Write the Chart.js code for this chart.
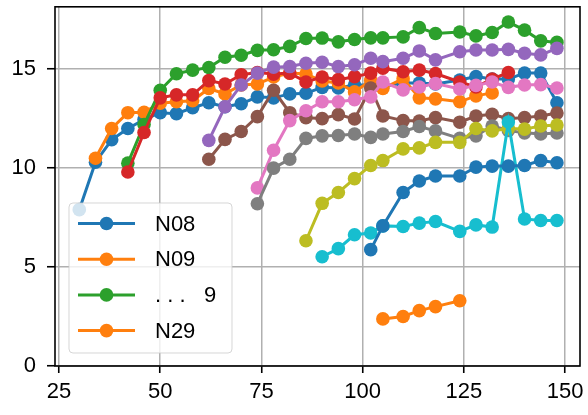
<!DOCTYPE html>
<html>
<head>
<meta charset="utf-8">
<script src="https://cdn.jsdelivr.net/npm/chart.js@4.4.1/dist/chart.umd.min.js"></script>
<style>
  html, body { margin: 0; padding: 0; background: #fff; }
</style>
</head>
<body>
<canvas id="chart" width="588" height="415"></canvas>
<script>
// shared x grid (every series uses a slice of it)
const ages = [30, 34, 38, 42, 46, 50, 54, 58, 62, 66, 70, 74, 78, 82, 86, 90, 94, 98, 102, 105, 110, 114, 118, 124, 128, 132, 136, 140, 144, 148];

const s0 = [7.9, 10.3, 11.43, 12.0, 12.45, 12.8, 12.75, 13.05, 13.3, 13.1, 13.25, 13.6, 13.55, 13.75, 13.78, 14.08, 14.05, 14.2, 14.2, 14.12, 14.3, 14.3, 14.25, 14.45, 14.63, 14.5, 14.5, 14.8, 14.8, 13.3];
const s1 = [null, 10.5, 12.0, 12.8, 12.82, 13.28, 13.35, 13.4, 14.02, 13.75, 14.2, 14.25, 14.6, 14.8, 14.75, 14.4, 14.3, 13.85, 14.43, 14.02, 14.52, 13.55, 13.5, 13.35, 13.65, 13.8, null, null, null, null];
const s2 = [null, null, null, 10.25, 12.2, 13.93, 14.77, 14.95, 15.08, 15.6, 15.7, 15.95, 15.98, 16.15, 16.55, 16.57, 16.38, 16.5, 16.58, 16.58, 16.63, 17.1, 16.8, 16.88, 16.68, 16.85, 17.38, 16.97, 16.43, 16.35];
const s3 = [null, null, null, 9.8, 11.8, 13.55, 13.7, 13.7, 14.42, 14.25, 14.72, 14.83, 14.75, 14.8, 14.35, 14.6, 14.47, 14.62, 14.8, 15.05, 14.87, 14.95, 14.78, 14.35, 14.1, 14.5, 14.83, null, null, null];
const s4 = [null, null, null, null, null, null, null, null, 11.4, 13.1, 14.2, 14.8, 15.1, 15.13, 15.3, 15.35, 15.13, 15.22, 15.55, 15.38, 15.55, 15.92, 15.47, 15.88, 15.97, 15.97, 16.0, 15.8, 15.72, 16.05];
const s5 = [null, null, null, null, null, null, null, null, 10.45, 11.45, 11.85, 12.6, 13.93, 12.8, 12.55, 12.5, 12.7, 12.48, 14.05, 12.63, 12.4, 12.38, 12.55, 12.32, 12.63, 12.72, 12.5, 12.55, 12.63, 12.78];
const s6 = [null, null, null, null, null, null, null, null, null, null, null, 9.0, 10.9, 12.4, 12.9, 13.35, 13.35, 13.45, 13.6, 14.35, 13.95, 14.1, 14.27, 14.0, 14.18, 14.35, 14.08, 14.2, 14.22, 14.05];
const s7 = [null, null, null, null, null, null, null, null, null, null, null, 8.2, 10.0, 10.45, 11.5, 11.63, 11.65, 11.72, 11.55, 11.72, 11.85, 12.1, 11.88, 11.5, 11.63, 12.13, 11.9, 11.78, 11.72, 11.77];
const s8 = [null, null, null, null, null, null, null, null, null, null, null, null, null, null, 6.33, 8.22, 8.77, 9.47, 10.13, 10.38, 10.97, 11.02, 11.3, 11.3, 12.0, 11.88, 12.0, 11.97, 12.13, 12.18];
const s9 = [null, null, null, null, null, null, null, null, null, null, null, null, null, null, null, 5.52, 5.93, 6.63, 6.72, 7.08, 7.05, 7.22, 7.3, 6.8, 7.13, 7.02, 12.33, 7.43, 7.35, 7.35];
const s10 = [null, null, null, null, null, null, null, null, null, null, null, null, null, null, null, null, null, null, 5.88, 7.08, 8.77, 9.35, 9.6, 9.6, 10.05, 10.1, 10.1, 10.13, 10.38, 10.27];
const s11 = [null, null, null, null, null, null, null, null, null, null, null, null, null, null, null, null, null, null, null, 2.38, 2.5, 2.8, 3.0, 3.3, null, null, null, null, null, null];

const seriesLabels = ["N08", "N09", ". . .   9", "N10", "N11", "N12", "N13", "N14", "N15", "N16", "N28", "N29"];
const legendShown = [0, 1, 2, 11];
const xTicks = [25, 50, 75, 100, 125, 150];
const yTicks = [0, 5, 10, 15];

const palette = ["#1f77b4", "#ff7f0e", "#2ca02c", "#d62728", "#9467bd", "#8c564b", "#e377c2", "#7f7f7f", "#bcbd22", "#17becf"];
const allSeries = [s0, s1, s2, s3, s4, s5, s6, s7, s8, s9, s10, s11];
const FONT = "'Liberation Sans', Arial, sans-serif";
const MARK_R = 6.8;
const LINE_W = 3;

const datasets = allSeries.map((vals, i) => {
    const color = palette[i % palette.length];
    const pts = [];
    vals.forEach((v, k) => { if (v !== null) pts.push({ x: ages[k], y: v }); });
    return {
        label: seriesLabels[i],
        data: pts,
        borderColor: color,
        backgroundColor: color,
        borderWidth: LINE_W,
        pointRadius: MARK_R,
        pointHoverRadius: MARK_R,
        pointBorderWidth: 0,
        tension: 0,
        order: -i,   // later series drawn on top, like matplotlib
    };
});

// black frame around the plot area
const framePlugin = {
    id: "frame",
    afterDatasetsDraw(chart) {
        const { ctx, chartArea: a } = chart;
        ctx.save();
        ctx.strokeStyle = "#000";
        ctx.lineWidth = 1.6;
        ctx.strokeRect(a.left, a.top, a.right - a.left, a.bottom - a.top);
        ctx.restore();
    }
};

// matplotlib-like legend box in the lower left
const legendBox = {
    id: "legendBox",
    afterDraw(chart) {
        const ctx = chart.ctx;
        const x0 = 69, y0 = 203, w = 163, h = 150, r = 4;
        ctx.save();
        ctx.beginPath();
        ctx.roundRect(x0, y0, w, h, r);
        ctx.fillStyle = "rgba(255,255,255,0.8)";
        ctx.fill();
        ctx.strokeStyle = "rgba(204,204,204,0.8)";
        ctx.lineWidth = 1;
        ctx.stroke();
        ctx.font = "22px " + FONT;
        ctx.textBaseline = "middle";
        legendShown.forEach((idx, row) => {
            const ds = chart.data.datasets[idx];
            const cy = 223.5 + row * 35.7;
            ctx.strokeStyle = ds.borderColor;
            ctx.lineWidth = LINE_W;
            ctx.beginPath();
            ctx.moveTo(78, cy);
            ctx.lineTo(135, cy);
            ctx.stroke();
            ctx.fillStyle = ds.backgroundColor;
            ctx.beginPath();
            ctx.arc(106.5, cy, MARK_R, 0, Math.PI * 2);
            ctx.fill();
            ctx.fillStyle = "#000";
            ctx.fillText(ds.label, 155, cy + 1);
        });
        ctx.restore();
    }
};

new Chart(document.getElementById("chart"), {
    type: "line",
    data: { datasets },
    options: {
        responsive: false,
        animation: false,
        devicePixelRatio: 1,
        layout: { padding: { top: 3, right: 8, left: 0, bottom: 0 } },
        plugins: { legend: { display: false }, tooltip: { enabled: false } },
        scales: {
            x: {
                type: "linear",
                min: 24,
                max: 153.7,
                afterBuildTicks: (s) => { s.ticks = xTicks.map(v => ({ value: v })); },
                afterFit: (s) => { s.height = 49; s.paddingLeft = 0; s.paddingRight = 0; },
                grid: { color: "#b0b0b0", lineWidth: 1.5, tickColor: "#000", tickWidth: 1.6, tickLength: 7 },
                border: { display: false },
                ticks: { color: "#000", font: { size: 22, family: FONT }, padding: 6, maxRotation: 0 }
            },
            y: {
                type: "linear",
                min: 0,
                max: 18.15,
                afterBuildTicks: (s) => { s.ticks = yTicks.map(v => ({ value: v })); },
                afterFit: (s) => { s.width = 55; s.paddingTop = 0; s.paddingBottom = 0; },
                grid: { color: "#b0b0b0", lineWidth: 1.5, tickColor: "#000", tickWidth: 1.6, tickLength: 8 },
                border: { display: false },
                ticks: { color: "#000", font: { size: 22, family: FONT }, padding: 11 }
            }
        }
    },
    plugins: [framePlugin, legendBox]
});
</script>
</body>
</html>
